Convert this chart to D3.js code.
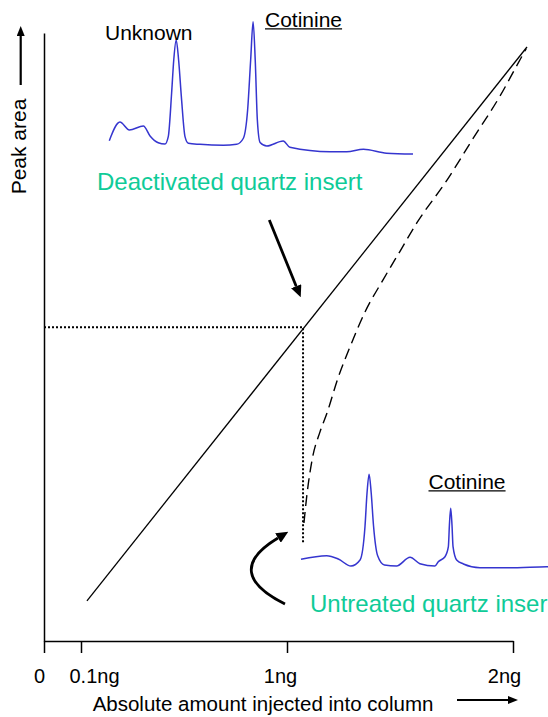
<!DOCTYPE html>
<html>
<head>
<meta charset="utf-8">
<script src="https://cdn.jsdelivr.net/npm/d3@7"></script>
<style>
  body { margin: 0; background: #fff; }
  svg { display: block; font-family: "Liberation Sans", Arial, sans-serif; }
</style>
</head>
<body>
<div id="chart"></div>
<script>
// x ticks (ng injected)
const xTicks = [0, 0.1, 1, 2]
// ideal response (deactivated insert) : [ng, peak area]
const idealLine = [[0.126, 6.6], [2.062, 97.7]]
// untreated insert response (dashed)
const untreatedCurve = [
  [1.075, 19.4], [1.088, 24.0], [1.111, 29.8], [1.146, 34.4], [1.177, 37.5],
  [1.226, 43.3], [1.279, 48.4], [1.345, 54.1], [1.425, 59.4], [1.500, 64.1],
  [1.575, 68.8], [1.708, 75.8], [1.819, 82.4], [1.942, 89.6], [2.031, 95.6],
  [2.058, 97.4]
]
// dotted read-off at ~1ng
const refPoint = [1.071, 51.6]
const refFloor = 16.1

// chromatogram, deactivated insert (time, signal)
const deactTime = [0.1, 3.6, 6.7, 11.3, 13.5, 16.2, 18.4, 19.5, 20.6, 21.3, 22.1, 22.9, 23.8, 25.0, 26.1,
  29.9, 37.6, 42.0, 44.2, 45.6, 46.6, 47.4, 48.1, 48.8, 49.7, 51.9, 57.3, 59.5, 72.7, 78.2, 83.7, 91.3, 100]
const deactSignal = [10.6, 24.4, 18.5, 21.5, 14.1, 9.1, 8.1, 13.6, 45.9, 70.4, 85.2, 70.4, 43.2, 13.6, 8.7,
  7.9, 7.2, 7.9, 12.4, 33.3, 70.4, 98.7, 70.4, 25.9, 9.3, 6.7, 10.4, 5.7, 2.4, 2.4, 4.2, 1.3, 0.7]

// chromatogram, untreated insert
const untrTime = [0, 9.9, 14.4, 19.3, 22.8, 24.7, 25.5, 26.3, 27.1, 28.0, 29.6, 32.2, 36.9, 42.1, 45.9,
  51.7, 53.0, 55.6, 56.9, 57.3, 57.8, 58.3, 58.7, 60.1, 62.7, 69.1, 79.4, 94.9, 100]
const untrSignal = [9.3, 13.1, 9.6, 2.1, 8.5, 43.9, 80.0, 99.7, 80.0, 45.0, 13.0, 3.2, 2.1, 11.4, 4.6,
  2.1, 6.7, 12.0, 22.7, 45.7, 63.5, 45.7, 22.7, 8.5, 4.3, 0.3, 0.3, 1.4, 1.6]

const width = 548, height = 717
const green = "#0fcb98", blue = "#3535cf"

const svg = d3.select("#chart").append("svg")
  .attr("width", width).attr("height", height)

// arrow heads
const defs = svg.append("defs")
const addHead = (id, len, w) => defs.append("marker")
  .attr("id", id)
  .attr("markerUnits", "userSpaceOnUse")
  .attr("viewBox", `0 0 ${len} ${w}`)
  .attr("markerWidth", len).attr("markerHeight", w)
  .attr("refX", 0).attr("refY", w / 2)
  .attr("orient", "auto")
  .append("path").attr("d", `M0,0L${len},${w / 2}L0,${w}Z`).attr("fill", "#000")
addHead("headBig", 12, 11)
addHead("headSmall", 10, 8)

// main scales (x axis is schematic, not linear)
const x = d3.scaleLinear().domain([0, 0.1, 1, 2]).range([44, 81, 287, 513])
const y = d3.scaleLinear().domain([0, 100]).range([641, 33])

// axes
svg.append("g")
  .attr("transform", `translate(0,${y(0)})`)
  .call(d3.axisBottom(x).tickValues(xTicks).tickSize(12).tickSizeOuter(0).tickPadding(16)
    .tickFormat(d => d === 0 ? "0" : d + "ng"))
  .call(g => g.selectAll("path, line").attr("stroke", "#000").attr("stroke-width", 1.5))
  .call(g => g.selectAll("text").attr("fill", "#000").attr("font-size", 20)
    .attr("font-family", "Liberation Sans, Arial, sans-serif")
    .attr("dx", (d, i) => [-5, 13, -7, -9][i]))

svg.append("g")
  .attr("transform", `translate(${x(0)},0)`)
  .call(d3.axisLeft(y).tickValues([]).tickSizeOuter(0))
  .call(g => g.select("path").attr("stroke", "#000").attr("stroke-width", 1.5))

// axis titles
svg.append("text")
  .attr("x", 263).attr("y", 711)
  .attr("text-anchor", "middle").attr("font-size", 20.5)
  .text("Absolute amount injected into column")
svg.append("line")
  .attr("x1", 457).attr("y1", 700).attr("x2", 508).attr("y2", 700)
  .attr("stroke", "#000").attr("stroke-width", 2.2).attr("marker-end", "url(#headSmall)")

svg.append("text")
  .attr("transform", "translate(25.5,146.5) rotate(-90)")
  .attr("text-anchor", "middle").attr("font-size", 21)
  .text("Peak area")
svg.append("line")
  .attr("x1", 20.7).attr("y1", 85).attr("x2", 20.7).attr("y2", 36)
  .attr("stroke", "#000").attr("stroke-width", 2.2).attr("marker-end", "url(#headSmall)")

// response lines
const line = d3.line().x(d => x(d[0])).y(d => y(d[1]))

svg.append("path")
  .datum(idealLine)
  .attr("d", line)
  .attr("fill", "none").attr("stroke", "#000").attr("stroke-width", 1.3)

svg.append("path")
  .datum(untreatedCurve)
  .attr("d", line.curve(d3.curveMonotoneX))
  .attr("fill", "none").attr("stroke", "#000").attr("stroke-width", 1.4)
  .attr("stroke-dasharray", "11,6")

svg.append("path")
  .datum([[0, refPoint[1]], refPoint, [refPoint[0], refFloor]])
  .attr("d", d3.line().x(d => x(d[0])).y(d => y(d[1])))
  .attr("fill", "none").attr("stroke", "#000").attr("stroke-width", 2)
  .attr("stroke-dasharray", "2,2")

// chromatogram insets
const drawTrace = (times, signal, xr, yr) => {
  const tx = d3.scaleLinear().domain([0, 100]).range(xr)
  const ty = d3.scaleLinear().domain([0, 100]).range(yr)
  svg.append("path")
    .datum(d3.zip(times, signal))
    .attr("d", d3.line().x(d => tx(d[0])).y(d => ty(d[1])).curve(d3.curveMonotoneX))
    .attr("fill", "none").attr("stroke", blue).attr("stroke-width", 1.5)
}
drawTrace(deactTime, deactSignal, [109, 413], [155, 20])
drawTrace(untrTime, untrSignal, [301, 560], [568, 474])

// labels
const label = (txt, lx, ly, size, color, underline) => {
  const t = svg.append("text")
    .attr("x", lx).attr("y", ly)
    .attr("font-size", size).attr("fill", color)
    .text(txt)
  if (underline) {
    const w = t.node().getComputedTextLength()
    svg.append("line")
      .attr("x1", lx).attr("x2", lx + w)
      .attr("y1", ly + 2.3).attr("y2", ly + 2.3)
      .attr("stroke", color).attr("stroke-width", 1.3)
  }
}
label("Unknown", 105, 40, 21, "#000", false)
label("Cotinine", 265, 26.5, 21, "#000", true)
label("Cotinine", 428.5, 488.5, 21, "#000", true)
label("Deactivated quartz insert", 97, 189.5, 24, green, false)
// the source picture is cropped right after "inser"
label("Untreated quartz inser", 310, 611.5, 24, green, false)

// pointer arrows
svg.append("line")
  .attr("x1", 269.3).attr("y1", 220).attr("x2", 296.2).attr("y2", 286.2)
  .attr("stroke", "#000").attr("stroke-width", 2.8).attr("marker-end", "url(#headBig)")

svg.append("path")
  .attr("d", "M285,604 C245,584 238,562 278,538")
  .attr("fill", "none").attr("stroke", "#000").attr("stroke-width", 2.8)
  .attr("marker-end", "url(#headBig)")
</script>
</body>
</html>
